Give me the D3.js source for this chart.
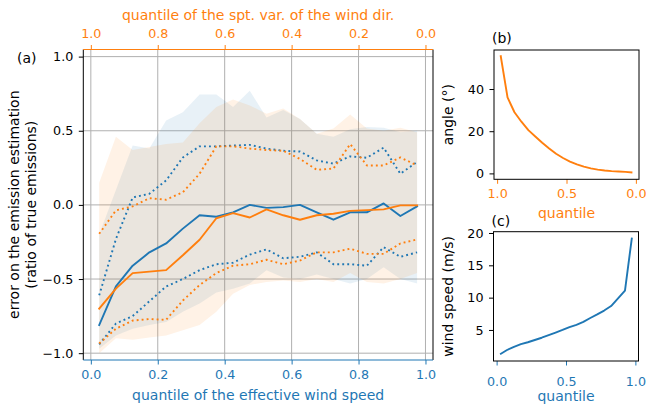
<!DOCTYPE html>
<html><head><meta charset="utf-8">
<script src="https://cdn.jsdelivr.net/npm/d3@7"></script>
<style>body{margin:0;background:#fff}svg{display:block}</style>
</head><body><svg id="c" width="646" height="405"></svg>
<script>
// ---------------- data ----------------
// bins of the effective wind speed quantile (bottom axis, left to right)
const speedQuantiles = [0.025,0.075,0.125,0.175,0.225,0.275,0.325,0.375,0.425,0.475,0.525,0.575,0.625,0.675,0.725,0.775,0.825,0.875,0.925,0.975];
// bins of the quantile of the spatial variability of wind direction (top axis, left to right)
const dirQuantiles = [0.975,0.925,0.875,0.825,0.775,0.725,0.675,0.625,0.575,0.525,0.475,0.425,0.375,0.325,0.275,0.225,0.175,0.125,0.075,0.025];

// blue series (vs wind speed quantile)
const blueMedian = [-0.81,-0.55,-0.41,-0.32,-0.26,-0.16,-0.07,-0.08,-0.05,0.00,-0.02,-0.015,0.00,-0.05,-0.10,-0.05,-0.05,0.01,-0.075,-0.01];
const blueUpperQ = [-0.61,-0.23,0.05,0.075,0.165,0.32,0.395,0.395,0.40,0.405,0.38,0.365,0.36,0.30,0.278,0.327,0.318,0.386,0.21,0.29];
const blueLowerQ = [-0.94,-0.80,-0.75,-0.65,-0.55,-0.50,-0.44,-0.40,-0.39,-0.335,-0.30,-0.36,-0.35,-0.32,-0.40,-0.40,-0.41,-0.285,-0.35,-0.32];
const blueBandHigh = [-0.20,0.10,0.40,0.38,0.57,0.625,0.745,0.745,0.66,0.77,0.59,0.64,0.58,0.48,0.46,0.51,0.525,0.52,0.49,0.50];
const blueBandLow = [-0.97,-0.88,-0.835,-0.81,-0.79,-0.72,-0.665,-0.59,-0.565,-0.53,-0.44,-0.49,-0.50,-0.47,-0.50,-0.53,-0.50,-0.42,-0.50,-0.53];

// orange series (vs wind direction variability quantile, listed in dirQuantiles order)
const orangeMedian = [-0.70,-0.565,-0.46,-0.45,-0.44,-0.34,-0.235,-0.09,-0.055,-0.085,-0.03,-0.07,-0.10,-0.07,-0.06,-0.04,-0.035,-0.03,-0.003,-0.003];
const orangeUpperQ = [-0.195,-0.037,-0.01,0.045,0.035,0.085,0.21,0.395,0.395,0.38,0.37,0.365,0.31,0.237,0.245,0.41,0.266,0.266,0.32,0.266];
const orangeLowerQ = [-0.935,-0.835,-0.78,-0.77,-0.775,-0.645,-0.54,-0.46,-0.41,-0.40,-0.37,-0.40,-0.375,-0.32,-0.32,-0.295,-0.33,-0.33,-0.26,-0.233];
const orangeBandHigh = [0.15,0.46,0.37,0.39,0.41,0.42,0.55,0.66,0.71,0.67,0.615,0.65,0.58,0.48,0.515,0.61,0.515,0.50,0.52,0.49];
const orangeBandLow = [-1.00,-0.90,-0.91,-0.895,-0.88,-0.845,-0.81,-0.72,-0.60,-0.54,-0.52,-0.51,-0.52,-0.50,-0.52,-0.46,-0.52,-0.53,-0.50,-0.46];

// (b) angle per direction quantile (dirQuantiles order)
const angleDeg = [56,36,29,24.5,20.5,17.5,14.5,11.8,9.3,7.3,5.6,4.3,3.2,2.4,1.8,1.4,1.1,0.9,0.7,0.4];
// (c) wind speed per speed quantile (speedQuantiles order)
const windSpeed = [1.25,1.9,2.4,2.8,3.1,3.45,3.8,4.2,4.6,5.0,5.45,5.8,6.25,6.85,7.4,8.0,8.7,9.9,11.1,19.3];

const mainXTicks = [0,0.2,0.4,0.6,0.8,1.0];
const mainYTicks = [-1,-0.5,0,0.5,1];
const bXTicks = [1.0,0.5,0.0];
const bYTicks = [0,20,40];
const cXTicks = [0.0,0.5,1.0];
const cYTicks = [5,10,15,20];

// ---------------- drawing ----------------
const BLUE = "#1f77b4", ORANGE = "#ff7f0e", FONT = "'DejaVu Sans', sans-serif";
const TICK_FS = 12.7, LABEL_FS = 14;
const svg = d3.select("#c");
const fmt1 = d3.format(".1f");

function styleAxis(g, color) {
  g.attr("font-family", FONT).attr("font-size", TICK_FS);
  g.select(".domain").remove();
  g.selectAll(".tick line").attr("stroke", color).attr("stroke-width", 1);
  g.selectAll(".tick text").attr("fill", color);
}
function text(x, y, s, opts = {}) {
  const t = svg.append("text").attr("x", x).attr("y", y).text(s)
    .attr("font-family", FONT).attr("font-size", opts.size || LABEL_FS).attr("fill", opts.fill || "#000")
    .attr("text-anchor", opts.anchor || "start");
  if (opts.rotate) t.attr("transform", `rotate(${opts.rotate},${x},${y})`);
  return t;
}

// ---- main panel (a) ----
const L = 83.3, R = 433, T = 49.5, B = 360;
const x = d3.scaleLinear().domain([-0.0225, 1.0225]).range([L, R]);
const xTop = d3.scaleLinear().domain([1.0225, -0.0225]).range([L, R]);
const y = d3.scaleLinear().domain([-1.046, 1.048]).range([B, T]);

// grid
const grid = svg.append("g");
grid.selectAll("line.v").data(mainXTicks).join("line")
  .attr("x1", d => x(d)).attr("x2", d => x(d)).attr("y1", T).attr("y2", B)
  .attr("stroke", "#b0b0b0").attr("stroke-width", 1);
grid.selectAll("line.h").data(mainYTicks).join("line")
  .attr("y1", d => y(d)).attr("y2", d => y(d)).attr("x1", L).attr("x2", R)
  .attr("stroke", "#b0b0b0").attr("stroke-width", 1);

// bands
const blueArea = d3.area().x((d, i) => x(speedQuantiles[i])).y0(d => y(d[0])).y1(d => y(d[1]));
const orangeArea = d3.area().x((d, i) => xTop(dirQuantiles[i])).y0(d => y(d[0])).y1(d => y(d[1]));
svg.append("path").attr("d", blueArea(blueBandLow.map((v, i) => [v, blueBandHigh[i]])))
  .attr("fill", BLUE).attr("fill-opacity", 0.1);
svg.append("path").attr("d", orangeArea(orangeBandLow.map((v, i) => [v, orangeBandHigh[i]])))
  .attr("fill", ORANGE).attr("fill-opacity", 0.1);

const blueLine = d3.line().x((d, i) => x(speedQuantiles[i])).y(d => y(d));
const orangeLine = d3.line().x((d, i) => xTop(dirQuantiles[i])).y(d => y(d));
function drawLine(gen, data, color, dotted) {
  const p = svg.append("path").attr("d", gen(data)).attr("fill", "none")
    .attr("stroke", color).attr("stroke-width", 1.9).attr("stroke-linejoin", "round");
  if (dotted) p.attr("stroke-dasharray", "1.9,3.1");
  else p.attr("stroke-linecap", "square");
}
drawLine(blueLine, blueUpperQ, BLUE, true);
drawLine(blueLine, blueLowerQ, BLUE, true);
drawLine(orangeLine, orangeUpperQ, ORANGE, true);
drawLine(orangeLine, orangeLowerQ, ORANGE, true);
drawLine(blueLine, blueMedian, BLUE, false);
drawLine(orangeLine, orangeMedian, ORANGE, false);

// axes
const gb = svg.append("g").attr("transform", `translate(0,${B})`)
  .call(d3.axisBottom(x).tickValues(mainXTicks).tickFormat(fmt1).tickSize(4.5).tickPadding(5.5));
styleAxis(gb, BLUE);
const gt = svg.append("g").attr("transform", `translate(0,${T})`)
  .call(d3.axisTop(xTop).tickValues(mainXTicks.slice().reverse()).tickFormat(fmt1).tickSize(4.5).tickPadding(7.3));
styleAxis(gt, ORANGE);
const gl = svg.append("g").attr("transform", `translate(${L},0)`)
  .call(d3.axisLeft(y).tickValues(mainYTicks).tickFormat(fmt1).tickSize(4.5).tickPadding(5.5));
styleAxis(gl, "#000");
// spines
svg.append("line").attr("x1", L).attr("x2", L).attr("y1", T).attr("y2", B).attr("stroke", "#000").attr("stroke-width", 1);
svg.append("line").attr("x1", R).attr("x2", R).attr("y1", T).attr("y2", B).attr("stroke", "#000").attr("stroke-width", 1);
svg.append("line").attr("x1", L).attr("x2", R).attr("y1", T).attr("y2", T).attr("stroke", ORANGE).attr("stroke-width", 1);
svg.append("line").attr("x1", L).attr("x2", R).attr("y1", B).attr("y2", B).attr("stroke", BLUE).attr("stroke-width", 1);

text((L + R) / 2, 19.5, "quantile of the spt. var. of the wind dir.", {anchor: "middle", fill: ORANGE});
text((L + R) / 2, 399.5, "quantile of the effective wind speed", {anchor: "middle", fill: BLUE});
text(17, 63, "(a)");
text(19, (T + B) / 2, "error on the emission estimation", {anchor: "middle", rotate: -90});
text(35.5, (T + B) / 2, "(ratio of true emissions)", {anchor: "middle", rotate: -90});

// ---- panel (b) ----
const bL = 494, bR = 639, bT = 50, bB = 179.3;
const xb = d3.scaleLinear().domain([1.0225, -0.0225]).range([bL, bR]);
const yb = d3.scaleLinear().domain([-2.8, 58.5]).range([bB, bT]);
svg.append("path").attr("d", d3.line().x((d, i) => xb(dirQuantiles[i])).y(d => yb(d))(angleDeg))
  .attr("fill", "none").attr("stroke", ORANGE).attr("stroke-width", 1.9).attr("stroke-linejoin", "round");
const gbx = svg.append("g").attr("transform", `translate(0,${bB})`)
  .call(d3.axisBottom(xb).tickValues(bXTicks).tickFormat(fmt1).tickSize(4.5).tickPadding(5.5));
styleAxis(gbx, ORANGE);
const gby = svg.append("g").attr("transform", `translate(${bL},0)`)
  .call(d3.axisLeft(yb).tickValues(bYTicks).tickFormat(d3.format("d")).tickSize(4.5).tickPadding(5.5));
styleAxis(gby, "#000");
svg.append("rect").attr("x", bL).attr("y", bT).attr("width", bR - bL).attr("height", bB - bT)
  .attr("fill", "none").attr("stroke", "#000").attr("stroke-width", 1);
text(bL - 2, 43, "(b)");
text((bL + bR) / 2, 218, "quantile", {anchor: "middle", fill: ORANGE});
text(453, (bT + bB) / 2, "angle (°)", {anchor: "middle", rotate: -90});

// ---- panel (c) ----
const cL = 493.5, cR = 638.5, cT = 231.7, cB = 361;
const xc = d3.scaleLinear().domain([-0.0225, 1.0225]).range([cL, cR]);
const yc = d3.scaleLinear().domain([0.2, 20.2]).range([cB, cT]);
svg.append("path").attr("d", d3.line().x((d, i) => xc(speedQuantiles[i])).y(d => yc(d))(windSpeed))
  .attr("fill", "none").attr("stroke", BLUE).attr("stroke-width", 1.9).attr("stroke-linejoin", "round");
const gcx = svg.append("g").attr("transform", `translate(0,${cB})`)
  .call(d3.axisBottom(xc).tickValues(cXTicks).tickFormat(fmt1).tickSize(4.5).tickPadding(11));
styleAxis(gcx, BLUE);
const gcy = svg.append("g").attr("transform", `translate(${cL},0)`)
  .call(d3.axisLeft(yc).tickValues(cYTicks).tickFormat(d3.format("d")).tickSize(4.5).tickPadding(5.5));
styleAxis(gcy, "#000");
svg.append("rect").attr("x", cL).attr("y", cT).attr("width", cR - cL).attr("height", cB - cT)
  .attr("fill", "none").attr("stroke", "#000").attr("stroke-width", 1);
text(cL - 2, 226, "(c)");
text((cL + cR) / 2, 400.5, "quantile", {anchor: "middle", fill: BLUE});
text(453, (cT + cB) / 2, "wind speed (m/s)", {anchor: "middle", rotate: -90});
</script>
</body></html>
